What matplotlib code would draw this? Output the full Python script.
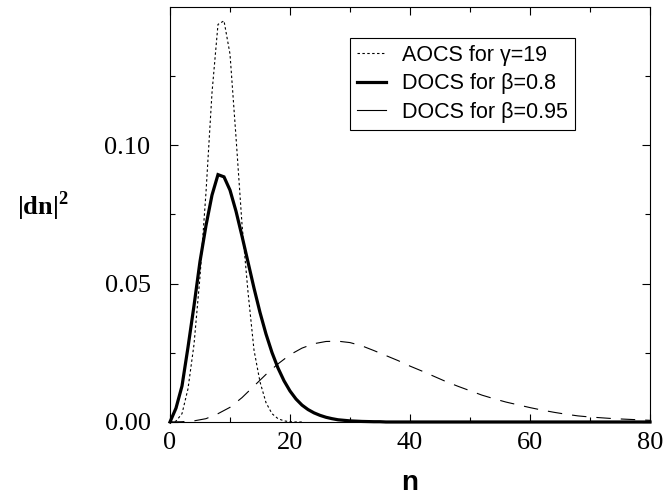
import matplotlib
matplotlib.use('Agg')
import matplotlib.pyplot as plt
from matplotlib.lines import Line2D
import numpy as np

# AOCS for gamma=19 (n = 0..22)
n_aocs = np.arange(0, 23)
p_aocs = [0.0, 0.0003, 0.003, 0.012, 0.028, 0.0525, 0.083, 0.119, 0.1437, 0.145,
          0.133, 0.103, 0.0715, 0.047, 0.026, 0.0145, 0.007, 0.003, 0.0012, 0.0004,
          0.0001, 0.0, 0.0]

# DOCS for beta=0.8 (n = 0..80), flat at zero beyond ~36
n_b08 = np.arange(0, 81)
p_b08 = [0.0, 0.005, 0.013, 0.027, 0.042, 0.058, 0.071, 0.082, 0.0894, 0.0886,
         0.0838, 0.0762, 0.0672, 0.0578, 0.0484, 0.0396, 0.0318, 0.0251, 0.0195, 0.0149,
         0.0112, 0.0083, 0.0061, 0.0045, 0.0033, 0.0024, 0.0017, 0.0012, 0.0008, 0.0006,
         0.0004, 0.0003, 0.0002, 0.00015, 0.0001, 0.0001] + [0.0] * 45

# DOCS for beta=0.95 (n = 0,2,..,80)
n_b095 = np.arange(0, 81, 2)
p_b095 = [0.0, 0.0001, 0.0004, 0.0012, 0.0030, 0.0053, 0.0088, 0.0130, 0.0172, 0.0210,
          0.0243, 0.0267, 0.0283, 0.0291, 0.0292, 0.0287, 0.0275, 0.0258, 0.0240, 0.0222,
          0.0202, 0.0184, 0.0165, 0.0146, 0.0129, 0.0113, 0.0097, 0.0084, 0.0072, 0.0062,
          0.0052, 0.0043, 0.0035, 0.0028, 0.0022, 0.0018, 0.0015, 0.0012, 0.0010, 0.0008,
          0.0006]

labels = ['AOCS for \u03b3=19', 'DOCS for \u03b2=0.8', 'DOCS for \u03b2=0.95']
xticks = [0, 20, 40, 60, 80]
yticks = [0.00, 0.05, 0.10]
ytick_labels = ['0.00', '0.05', '0.10']

plt.rcParams['mathtext.fontset'] = 'custom'
plt.rcParams['mathtext.rm'] = 'Liberation Serif'
plt.rcParams['mathtext.bf'] = 'Liberation Serif:bold'

fig = plt.figure(figsize=(6.63, 4.95), dpi=100)
ax = fig.add_axes([0.2564, 0.1475, 0.724, 0.8384])

ax.plot(n_aocs, p_aocs, color='black', lw=0.8, linestyle=(0, (2.2, 2.2)))
ax.plot(n_b095, p_b095, color='black', lw=0.8, linestyle=(0, (13, 9)))
ax.plot(n_b08, p_b08, color='black', lw=2.3, solid_joinstyle='miter', clip_on=False)

ax.set_xlim(0, 80)
ax.set_ylim(0, 0.15)
ax.set_xticks(xticks)
ax.set_xticks([10, 30, 50, 70], minor=True)
ax.set_yticks(yticks)
ax.set_yticklabels(ytick_labels)
ax.set_yticks([0.025, 0.075, 0.125], minor=True)

ax.tick_params(which='both', direction='in', top=True, right=True, width=0.8)
ax.tick_params(which='major', length=6)
ax.tick_params(which='minor', length=3.5)
ax.tick_params(axis='x', pad=7)
ax.tick_params(axis='y', pad=14)
for lab in ax.get_xticklabels() + ax.get_yticklabels():
    lab.set_fontfamily('Liberation Serif')
    lab.set_fontsize(19)
for sp in ax.spines.values():
    sp.set_linewidth(0.8)

ax.set_xlabel('n', fontfamily='Liberation Sans', fontweight='bold', fontsize=20)
ax.xaxis.set_label_coords(0.5, -0.115)
ax.set_ylabel(r'$\mathbf{|dn|}^{\mathbf{2}}$', fontsize=19, rotation=0, ha='center', va='center')
ax.yaxis.set_label_coords(-0.265, 0.52)

handles = [Line2D([], [], color='black', lw=0.8, linestyle=(0, (2.2, 2.2))),
           Line2D([], [], color='black', lw=2.3),
           Line2D([], [], color='black', lw=0.8)]
leg = ax.legend(handles, labels, loc='upper left', bbox_to_anchor=(0.375, 0.925),
                borderaxespad=0, fancybox=False, framealpha=1, edgecolor='black',
                prop={'family': 'Liberation Sans', 'size': 15.5}, handlelength=1.35,
                handletextpad=0.75, labelspacing=0.34, borderpad=0.32)
leg.get_frame().set_linewidth(0.8)

fig.savefig('out.png', dpi=100)
